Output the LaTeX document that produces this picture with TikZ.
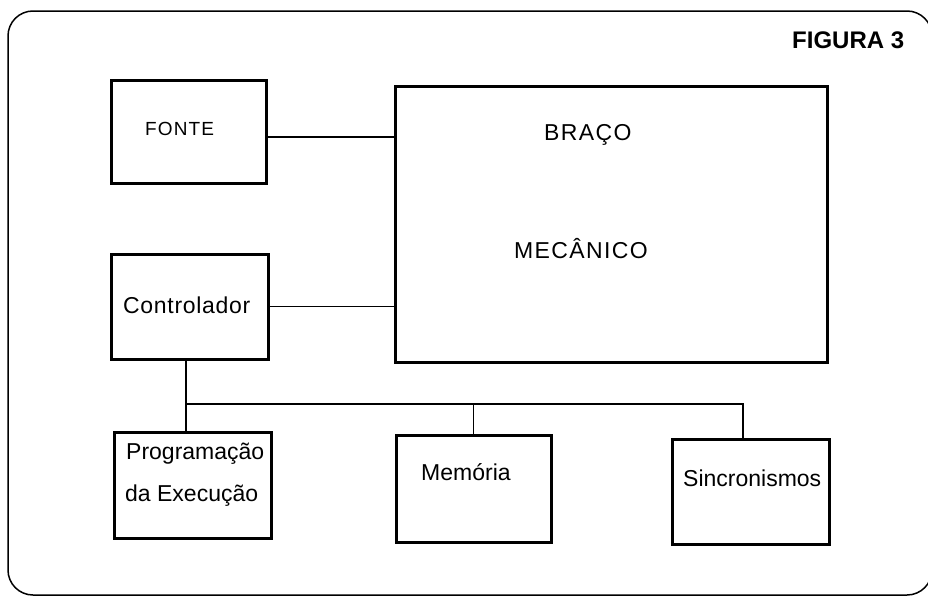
\documentclass[tikz,border=0pt]{standalone}
\usepackage{fontspec}
\setmainfont{Liberation Sans}
\usepackage{tikz}
\usetikzlibrary{positioning}

\begin{document}
\begin{tikzpicture}[
  x=1pt, y=-1pt,
  block/.style    = {rectangle, draw=black, line width=3pt, inner sep=0pt},
  boxtext/.style  = {anchor=base west, inner sep=0pt,
                     font=\fontsize{23}{27}\selectfont},
  capstext/.style = {anchor=base west, inner sep=0pt,
                     font=\fontsize{23}{27}\selectfont\addfontfeature{LetterSpace=6}},
  link/.style     = {line width=1.5pt},
  outline/.style  = {line width=1.5pt, rounded corners=25pt}
]
\useasboundingbox (0,0) rectangle (928,597);

% --- moldura ---
\draw[outline] (8,11) rectangle (932,595);
\node[anchor=base west, inner sep=0pt, font=\fontsize{24}{28}\selectfont\bfseries]
  (fig) at (792,48) {FIGURA 3};

% --- blocos ---
\node[block, minimum width=155pt, minimum height=103pt] (fonte) at (188.5,131.5) {};
\node[block, minimum width=432pt, minimum height=276pt] (braco) at (611,224)   {};
\node[block, minimum width=157pt, minimum height=105pt] (ctrl)  at (189.5,306.5) {};
\node[block, minimum width=157pt, minimum height=106pt] (prog)  at (192.5,485) {};
\node[block, minimum width=155pt, minimum height=107pt] (mem)   at (473.5,488.5) {};
\node[block, minimum width=157pt, minimum height=105pt] (sinc)  at (750.5,491.5) {};

% --- textos ---
\node[capstext, font=\fontsize{19}{23}\selectfont\addfontfeature{LetterSpace=6}]
                         (tfonte) at (145,135) {FONTE};
\node[capstext]          (tbraco) at (544,140) {BRAÇO};
\node[capstext]          (tmec)   at (514,258) {MECÂNICO};
\node[boxtext, font=\fontsize{23}{27}\selectfont\addfontfeature{LetterSpace=3}]
                         (tctrl)  at (123,313) {Controlador};
\node[boxtext]           (tprog)  at (126,459) {Programação};
\node[boxtext]           (texec)  at (125,501) {da Execução};
\node[boxtext]           (tmem)   at (421,480) {Memória};
\node[boxtext]           (tsinc)  at (683,486) {Sincronismos};

% --- ligações ---
\coordinate (bus) at (186,404);
\draw[link] ([yshift=-5.5pt]fonte.east) -- ([yshift=-5.5pt]fonte.east -| braco.west);
\draw[link] (ctrl.east) -- (ctrl.east -| braco.west);
\draw[link] (ctrl.south -| bus) -- (prog.north -| bus);
\draw[link] (bus) -| ([xshift=-7.5pt]sinc.north);
\draw[link] (mem.north) -- (mem.north |- bus);

\end{tikzpicture}
\end{document}
